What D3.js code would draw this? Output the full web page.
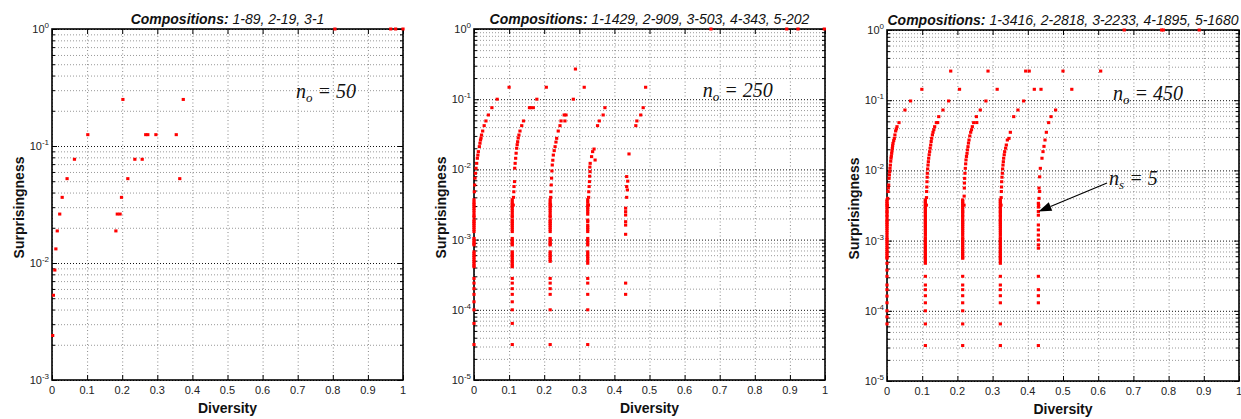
<!DOCTYPE html>
<html>
<head>
<meta charset="utf-8">
<script src="https://cdn.jsdelivr.net/npm/d3@7"></script>
<style>
body { margin: 0; background: #fff; }
svg { display: block; font-family: "Liberation Sans", Arial, Helvetica, sans-serif; }
text { white-space: pre; }
</style>
</head>
<body>
<svg id="chart" width="1241" height="419"></svg>
<script>
// ---- data: [diversity, surprisingness] ----

const compositions1 = ['1-89', '2-19', '3-1']
const compositions2 = ['1-1429', '2-909', '3-503', '4-343', '5-202']
const compositions3 = ['1-3416', '2-2818', '3-2233', '4-1895', '5-1680']
const noValues = [50, 250, 450]
const xTickValues = [0, 0.1, 0.2, 0.3, 0.4, 0.5, 0.6, 0.7, 0.8, 0.9, 1]

const p1Points = [
    [0.806, 1], [0.965, 1], [0.979, 1], [1.0, 1],
    [0.202, 0.25], [0.374, 0.25],
    [0.102, 0.125], [0.267, 0.125], [0.273, 0.125], [0.296, 0.125], [0.354, 0.125],
    [0.064, 0.077], [0.236, 0.077], [0.257, 0.077],
    [0.043, 0.0526], [0.216, 0.0526], [0.364, 0.0526],
    [0.029, 0.0364], [0.198, 0.0364],
    [0.022, 0.0262], [0.186, 0.0262], [0.194, 0.0262],
    [0.015, 0.0188], [0.182, 0.0188],
    [0.011, 0.0132], [0.008, 0.0087], [0.004, 0.0053], [0.002, 0.0024]
]

const p2Scatter = [
    [0.675, 1], [0.891, 1], [0.923, 1], [0.998, 1],
    [0.289, 0.269],
    [0.100, 0.148], [0.206, 0.148], [0.314, 0.148], [0.489, 0.148],
    [0.066, 0.1], [0.179, 0.1], [0.283, 0.1],
    [0.051, 0.0757], [0.158, 0.0757], [0.162, 0.0757], [0.169, 0.0757], [0.373, 0.0757], [0.482, 0.0757],
    [0.041, 0.0596], [0.257, 0.0596], [0.262, 0.0596], [0.368, 0.0596], [0.475, 0.0596],
    [0.034, 0.049], [0.141, 0.049], [0.248, 0.049], [0.259, 0.049], [0.357, 0.049], [0.464, 0.049],
    [0.029, 0.042], [0.136, 0.042], [0.245, 0.042], [0.352, 0.042], [0.461, 0.042]
]

const p2Curves = [
    [0.0247, 0.0352], [0.0214, 0.0309], [0.020, 0.028], [0.0185, 0.0262], [0.0170, 0.0236], [0.0152, 0.0211],
    [0.0124, 0.0179], [0.0110, 0.016], [0.0095, 0.0144], [0.0076, 0.0122], [0.0057, 0.0104], [0.0040, 0.0088],
    [0.0028, 0.0075], [0.0018, 0.0060], [0.0009, 0.0048],
    [0.131, 0.0352], [0.128, 0.0309], [0.126, 0.028], [0.1244, 0.0248], [0.123, 0.0225], [0.1216, 0.020],
    [0.120, 0.017], [0.1187, 0.0144], [0.1172, 0.0122], [0.116, 0.0104], [0.1155, 0.0067], [0.114, 0.0057],
    [0.1134, 0.0048], [0.1125, 0.0040], [0.1117, 0.0031],
    [0.240, 0.0352], [0.2355, 0.0277], [0.2335, 0.0245], [0.231, 0.0211], [0.2285, 0.0185], [0.226, 0.016],
    [0.2245, 0.0135], [0.223, 0.01155], [0.222, 0.0095], [0.221, 0.0075], [0.220, 0.006], [0.219, 0.0048],
    [0.2185, 0.004], [0.218, 0.0031],
    [0.342, 0.0195], [0.338, 0.0179], [0.345, 0.0136], [0.335, 0.0152], [0.331, 0.0122], [0.330, 0.0108],
    [0.3305, 0.0093], [0.3295, 0.008], [0.329, 0.0067], [0.328, 0.0057], [0.327, 0.0048], [0.3265, 0.004],
    [0.326, 0.0031],
    [0.4416, 0.0166], [0.435, 0.0079], [0.438, 0.0068], [0.435, 0.0057], [0.437, 0.0051], [0.435, 0.0040]
]

// vertical columns: one diversity value, many surprisingness values
const p2Columns = [
    {x: 0, s: [0.0037, 0.0034, 0.0032, 0.003, 0.0028, 0.0026, 0.0024, 0.0022, 0.0021, 0.0019, 0.0018, 0.0017,
        0.0016, 0.0015, 0.0014, 0.0013, 0.00104, 0.00098, 0.00092, 0.00087, 0.00084, 0.00067, 0.00063, 0.00059,
        0.00056, 0.00052, 0.00049, 0.00046, 0.00043, 0.00041,
        0.00028, 0.00024, 0.0002, 0.000166, 0.00013, 0.0001, 0.000064, 0.000032]},
    {x: 0.109, s: [0.0037, 0.0034, 0.0032, 0.003, 0.0028, 0.0026, 0.0024, 0.0022, 0.0021, 0.0019, 0.0018, 0.0017,
        0.0016, 0.0015, 0.0014, 0.0013, 0.00104, 0.00098, 0.00092, 0.00087, 0.00084, 0.00067, 0.00063, 0.00059,
        0.00056, 0.00052, 0.00049, 0.00046, 0.00043, 0.00041,
        0.00028, 0.00024, 0.0002, 0.000166, 0.00013, 0.0001, 0.000064, 0.000032]},
    {x: 0.217, s: [0.0037, 0.0034, 0.0032, 0.003, 0.0028, 0.0026, 0.0024, 0.0022, 0.0021, 0.0019, 0.0018, 0.0017,
        0.0016, 0.0015, 0.0014, 0.0013, 0.00104, 0.00098, 0.00092, 0.00087, 0.00084, 0.00067, 0.00063, 0.00059,
        0.00056, 0.00052, 0.00049,
        0.00028, 0.00024, 0.0002, 0.000166, 0.0001, 0.000032]},
    {x: 0.324, s: [0.0037, 0.0034, 0.0031, 0.0029, 0.0027, 0.0025, 0.0023, 0.0019, 0.0018, 0.0016, 0.0015,
        0.0014, 0.0013, 0.00104, 0.00097, 0.0009, 0.00084, 0.00067, 0.00062, 0.00058, 0.00054, 0.0005, 0.00046,
        0.00028, 0.00024, 0.000166, 0.0001, 0.000032]},
    {x: 0.432, s: [0.0028, 0.0025, 0.00224, 0.0018, 0.00161, 0.00119, 0.00024, 0.000166]}
]

const p3Scatter = [
    [0.674, 1], [0.780, 1], [0.785, 1], [0.887, 1],
    [0.181, 0.26], [0.287, 0.26], [0.394, 0.26], [0.404, 0.26], [0.500, 0.26], [0.607, 0.26],
    [0.099, 0.143], [0.206, 0.143], [0.313, 0.143], [0.4185, 0.143], [0.4375, 0.143], [0.525, 0.143],
    [0.067, 0.0975], [0.175, 0.0975], [0.281, 0.0975], [0.388, 0.0975],
    [0.051, 0.0725], [0.159, 0.0725], [0.265, 0.0725], [0.372, 0.0725], [0.479, 0.0725],
    [0.147, 0.0583], [0.254, 0.0583], [0.360, 0.0583], [0.466, 0.0583],
    [0.144, 0.048], [0.255, 0.048]
]

const p3Curves = [
    [0.0341, 0.0479], [0.0284, 0.042], [0.0265, 0.039], [0.0246, 0.0364], [0.0225, 0.032], [0.0208, 0.0286],
    [0.019, 0.0265], [0.017, 0.0243], [0.016, 0.0225], [0.0152, 0.0206], [0.0142, 0.019], [0.0133, 0.0175],
    [0.0123, 0.016], [0.0114, 0.0149], [0.0105, 0.0135], [0.0095, 0.0119], [0.0085, 0.0107], [0.0076, 0.0096],
    [0.0066, 0.0086], [0.0057, 0.0077], [0.0047, 0.0062], [0.0038, 0.0056], [0.0028, 0.005], [0.0019, 0.004],
    [0.0009, 0.0032],
    [0.1402, 0.0479], [0.1354, 0.042], [0.133, 0.038], [0.1307, 0.0349], [0.129, 0.032], [0.1269, 0.0286],
    [0.1255, 0.0258], [0.1241, 0.023], [0.1226, 0.0207], [0.1212, 0.0185], [0.1198, 0.0167], [0.1184, 0.0149],
    [0.1175, 0.0133], [0.1165, 0.0119], [0.1155, 0.0105], [0.1146, 0.0091], [0.1141, 0.008], [0.1136, 0.0069],
    [0.1131, 0.0058], [0.1127, 0.005], [0.1122, 0.0041], [0.1117, 0.0032],
    [0.2462, 0.0479], [0.2424, 0.042], [0.240, 0.038], [0.2377, 0.0349], [0.2352, 0.031], [0.233, 0.0271],
    [0.2315, 0.0245], [0.2301, 0.0218], [0.2287, 0.0196], [0.2273, 0.0175], [0.2258, 0.0158], [0.2244, 0.0141],
    [0.2235, 0.0124], [0.2225, 0.0107], [0.2215, 0.0091], [0.2206, 0.0077], [0.220, 0.0066], [0.2197, 0.0056],
    [0.2192, 0.0043], [0.2188, 0.0032],
    [0.3504, 0.0349], [0.3466, 0.0286], [0.3419, 0.0271], [0.339, 0.023], [0.337, 0.0207], [0.3343, 0.0185],
    [0.333, 0.0167], [0.3314, 0.0149], [0.3305, 0.0133], [0.3295, 0.0119], [0.3285, 0.0105], [0.3277, 0.0091],
    [0.3267, 0.008], [0.3258, 0.0069], [0.3253, 0.0058], [0.3248, 0.005], [0.3243, 0.0041], [0.3239, 0.0032],
    [0.4593, 0.0479], [0.4527, 0.0349], [0.4489, 0.0271], [0.446, 0.022], [0.4432, 0.0185], [0.4403, 0.0149],
    [0.4356, 0.0107], [0.4337, 0.0081], [0.4318, 0.0056], [0.4337, 0.005], [0.4318, 0.004], [0.4309, 0.0032]
]

const p3Columns = [
    {x: 0, s: [0.0038, 0.0036, 0.0034, 0.0032, 0.003, 0.0028, 0.0026, 0.0025, 0.0023, 0.0022, 0.002, 0.0019,
        0.0018, 0.0017, 0.0016, 0.0015, 0.0014, 0.0013, 0.0012, 0.0011, 0.00104, 0.00098, 0.00092, 0.00086,
        0.0008, 0.00075, 0.0007, 0.00066, 0.00062, 0.00058, 0.00056,
        0.000475, 0.00038, 0.00031, 0.000233, 0.0002, 0.000162, 0.00013, 0.0001, 0.000082, 0.000065]},
    {x: 0.109, s: [0.0038, 0.0036, 0.0034, 0.0032, 0.003, 0.0028, 0.0026, 0.0025, 0.0023, 0.0022, 0.002, 0.0019,
        0.0018, 0.0017, 0.0016, 0.0015, 0.0014, 0.0013, 0.0012, 0.0011, 0.00104, 0.00098, 0.00092, 0.00086,
        0.0008, 0.00075, 0.0007, 0.00066, 0.00062, 0.00058, 0.00056, 0.00052, 0.000475,
        0.00031, 0.000233, 0.0002, 0.000164, 0.00013, 0.0001, 0.000065, 0.000032]},
    {x: 0.215, s: [0.0038, 0.0036, 0.0034, 0.0032, 0.003, 0.0028, 0.0026, 0.0025, 0.0023, 0.0022, 0.002, 0.0019,
        0.0018, 0.0017, 0.0016, 0.0015, 0.0014, 0.0013, 0.0012, 0.0011, 0.00104, 0.00098, 0.00092, 0.00086,
        0.0008, 0.00075, 0.0007, 0.00066, 0.00062, 0.00058, 0.00056,
        0.00031, 0.000233, 0.0002, 0.000164, 0.00013, 0.0001, 0.000065, 0.000032]},
    {x: 0.322, s: [0.0038, 0.0036, 0.0034, 0.0032, 0.003, 0.0028, 0.0026, 0.0025, 0.0023, 0.0022, 0.002, 0.0019,
        0.0018, 0.0017, 0.0016, 0.0015, 0.0014, 0.0013, 0.0012, 0.0011, 0.00104, 0.00098, 0.00092, 0.00086,
        0.0008, 0.00075, 0.0007, 0.00066, 0.00062, 0.00058, 0.00056, 0.00052, 0.000475,
        0.00031, 0.000233, 0.0002, 0.000164, 0.00013, 0.000065, 0.000032]},
    {x: 0.43, s: [0.0034, 0.003, 0.0026, 0.0023, 0.00167, 0.00142, 0.0012, 0.00102, 0.00087, 0.00078,
        0.00031, 0.0002, 0.000164, 0.00013, 0.000032]}
]

// ---- layout ----
const panels = [
    {left: 52, top: 29, width: 351, height: 351, yMin: 1e-3, comps: compositions1,
        points: p1Points, columns: [], note: [0.695, 0.257]},
    {left: 474, top: 29, width: 351, height: 351, yMin: 1e-5, comps: compositions2,
        points: p2Scatter.concat(p2Curves), columns: p2Columns, note: [0.652, 0.1075]},
    {left: 887, top: 30, width: 352, height: 351, yMin: 1e-5, comps: compositions3,
        points: p3Scatter.concat(p3Curves), columns: p3Columns, note: [0.642, 0.1007]}
]

const svg = d3.select('#chart')

function drawPanel(p, index) {
    const g = svg.append('g').attr('transform', 'translate(' + p.left + ',' + p.top + ')')
    const x = d3.scaleLinear().domain([0, 1]).range([0, p.width])
    const y = d3.scaleLog().domain([p.yMin, 1]).range([p.height, 0])

    const allTicks = y.ticks()
    const isDecade = t => Math.abs(Math.log10(t) - Math.round(Math.log10(t))) < 1e-6
    const decades = allTicks.filter(isDecade)
    const minors = allTicks.filter(t => !isDecade(t))

    // grid
    g.append('g')
        .call(d3.axisLeft(y).tickValues(minors).tickSize(-p.width).tickFormat(''))
        .call(a => a.select('.domain').remove())
        .selectAll('line').attr('stroke', '#999').attr('stroke-dasharray', '1,2')
    g.append('g')
        .call(d3.axisBottom(x).tickValues(xTickValues).tickSize(p.height).tickFormat(''))
        .call(a => a.select('.domain').remove())
        .selectAll('line').attr('stroke', '#888').attr('stroke-dasharray', '1,2.5')
    g.append('g')
        .call(d3.axisLeft(y).tickValues(decades).tickSize(-p.width).tickFormat(''))
        .call(a => a.select('.domain').remove())
        .selectAll('line').attr('stroke', '#111').attr('stroke-dasharray', '1,2')

    // tick marks (inward)
    const tickGroups = [
        [d3.axisLeft(y).tickValues(decades).tickSize(-5), 0, 0],
        [d3.axisRight(y).tickValues(decades).tickSize(-5), p.width, 0],
        [d3.axisLeft(y).tickValues(minors).tickSize(-3), 0, 0],
        [d3.axisRight(y).tickValues(minors).tickSize(-3), p.width, 0],
        [d3.axisBottom(x).tickValues(xTickValues).tickSize(-5), 0, p.height],
        [d3.axisTop(x).tickValues(xTickValues).tickSize(-5), 0, 0]
    ]
    tickGroups.forEach(([axis, tx, ty]) => {
        g.append('g')
            .attr('transform', 'translate(' + tx + ',' + ty + ')')
            .call(axis.tickFormat(''))
            .call(a => a.select('.domain').remove())
            .selectAll('line').attr('stroke', '#000').attr('stroke-width', 1)
    })

    // frame
    g.append('rect')
        .attr('width', p.width).attr('height', p.height)
        .attr('fill', 'none').attr('stroke', '#000').attr('stroke-width', 1.6)

    // x tick labels
    g.selectAll('text.xlab')
        .data(xTickValues)
        .join('text')
        .attr('class', 'xlab')
        .attr('x', d => x(d))
        .attr('y', p.height + 14)
        .attr('text-anchor', 'middle')
        .attr('font-size', 11)
        .attr('fill', '#222')
        .text(d => String(d))

    // y tick labels 10^k
    decades.forEach(t => {
        const lab = g.append('text')
            .attr('x', -3)
            .attr('y', y(t) + 4)
            .attr('text-anchor', 'end')
            .attr('font-size', 11)
            .attr('fill', '#222')
        lab.append('tspan').text('10')
        lab.append('tspan').attr('dy', -5).attr('font-size', 8).text(String(Math.round(Math.log10(t))))
    })

    // points
    const pts = p.points.concat(p.columns.flatMap(c => c.s.map(v => [c.x, v])))
    g.selectAll('rect.pt')
        .data(pts)
        .join('rect')
        .attr('class', 'pt')
        .attr('x', d => x(d[0]) - 1.6)
        .attr('y', d => y(d[1]) - 1.5)
        .attr('width', 3.2)
        .attr('height', 3)
        .attr('fill', '#ff0000')

    // title
    const title = svg.append('text')
        .attr('x', p.left + p.width / 2)
        .attr('y', p.top - 5)
        .attr('text-anchor', 'middle')
        .attr('font-size', 14)
        .attr('font-style', 'italic')
        .attr('fill', '#111')
    title.append('tspan').attr('font-weight', 'bold').text('Compositions: ')
    title.append('tspan').text(p.comps.join(', '))

    // axis labels
    svg.append('text')
        .attr('x', p.left + p.width / 2)
        .attr('y', p.top + p.height + 33)
        .attr('text-anchor', 'middle')
        .attr('font-size', 14)
        .attr('font-weight', 'bold')
        .attr('fill', '#111')
        .text('Diversity')
    svg.append('text')
        .attr('transform', 'translate(' + (p.left - 28) + ',' + (p.top + p.height / 2 + 3) + ') rotate(-90)')
        .attr('text-anchor', 'middle')
        .attr('font-size', 14)
        .attr('font-weight', 'bold')
        .attr('fill', '#111')
        .text('Surprisingness')

    // n_o annotation
    const note = g.append('text')
        .attr('x', x(p.note[0]))
        .attr('y', y(p.note[1]))
        .attr('font-family', '"Liberation Serif", "Times New Roman", serif')
        .attr('font-style', 'italic')
        .attr('font-size', 20)
        .attr('fill', '#111')
    note.append('tspan').text('n')
    note.append('tspan').attr('dy', 4).attr('font-size', 13).text('o')
    note.append('tspan').attr('dy', -4).text(' = ' + noValues[index])

    return {g, x, y}
}

const drawn = panels.map(drawPanel)

// n_s = 5 arrow on the last panel
const last = drawn[2]
const arrowFrom = [0.625, 0.0066]
const arrowTo = [0.4304, 0.0026]
const x0 = last.x(arrowFrom[0]), y0 = last.y(arrowFrom[1])
const x1 = last.x(arrowTo[0]), y1 = last.y(arrowTo[1])
const ang = Math.atan2(y1 - y0, x1 - x0)
const headLen = 13, headW = 4.5
const bx = x1 - headLen * Math.cos(ang), by = y1 - headLen * Math.sin(ang)
last.g.append('line')
    .attr('x1', x0).attr('y1', y0).attr('x2', bx).attr('y2', by)
    .attr('stroke', '#000').attr('stroke-width', 1.2)
last.g.append('path')
    .attr('d', d3.line()([
        [x1, y1],
        [bx + headW * Math.sin(ang), by - headW * Math.cos(ang)],
        [bx - headW * Math.sin(ang), by + headW * Math.cos(ang)]
    ]) + 'Z')
    .attr('fill', '#000')

const nsNote = last.g.append('text')
    .attr('x', last.x(0.631))
    .attr('y', last.y(0.0062))
    .attr('font-family', '"Liberation Serif", "Times New Roman", serif')
    .attr('font-style', 'italic')
    .attr('font-size', 20)
    .attr('fill', '#111')
nsNote.append('tspan').text('n')
nsNote.append('tspan').attr('dy', 4).attr('font-size', 13).text('s')
nsNote.append('tspan').attr('dy', -4).text(' = 5')
</script>
</body>
</html>
